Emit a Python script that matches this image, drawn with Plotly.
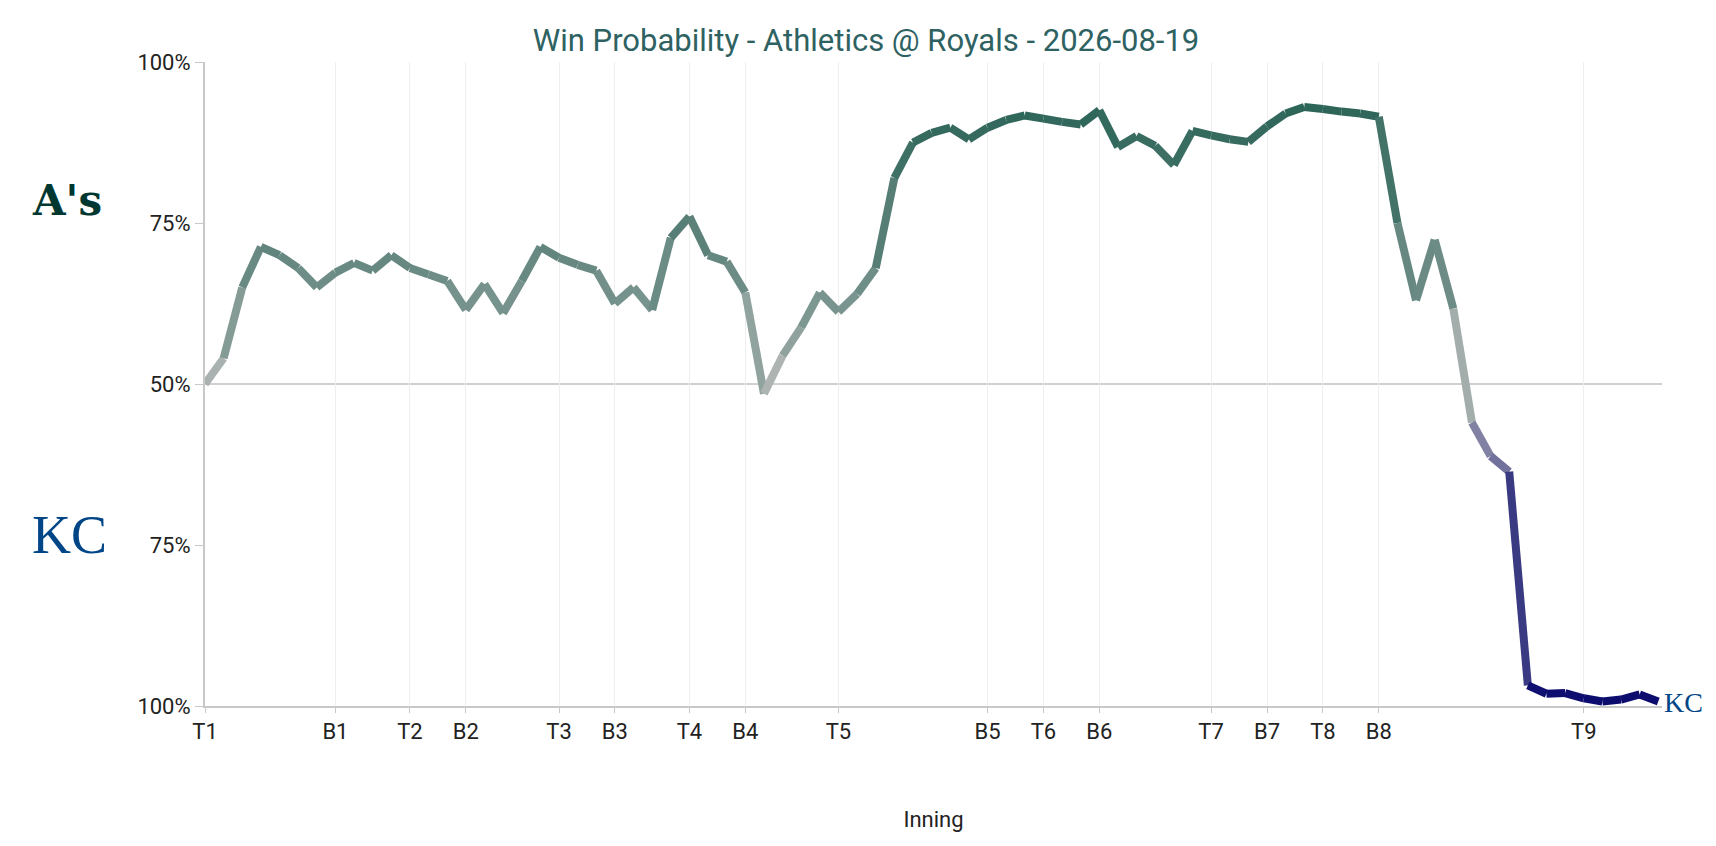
import plotly.graph_objects as go

wp = [50,54,65,71.3,70,68,65,67.3,68.8,67.6,70,68,67,66,61.5,65.5,61,66,71.3,69.6,
      68.5,67.6,62.5,65,61.5,72.7,76,70,69,64.2,48.5,54.4,58.8,64.2,61.2,64,68,82,87.5,89,
      89.8,88,89.8,91,91.7,91.2,90.7,90.3,92.5,86.8,88.5,87,84,89.3,88.6,88,87.6,90,92,93,
      92.7,92.3,92,91.5,75,63,72.4,61.7,44,38.8,36.4,3.2,1.9,2,1.2,0.7,1,1.8,0.7]
tick_pos = [0,7,11,14,19,22,26,29,34,42,45,48,54,57,60,63,74]
tick_lab = ["T1","B1","T2","B2","T3","B3","T4","B4","T5","B5","T6","B6","T7","B7","T8","B8","T9"]
ytick_pos = [0,25,50,75,100]
ytick_lab = ["100%","75%","50%","75%","100%"]

gray=(192,192,192); green=(31,92,79); navy=(10,10,110)
def col(p):
    t=min(1,abs(p-50)/50)**0.6
    c=green if p>=50 else navy
    return "rgb(%d,%d,%d)"%tuple(round(g+(cc-g)*t) for g,cc in zip(gray,c))

fig=go.Figure()
for i in range(len(wp)-1):
    fig.add_trace(go.Scatter(x=[i,i+1],y=[wp[i],wp[i+1]],mode="lines",
        line=dict(color=col((wp[i]+wp[i+1])/2),width=8),hoverinfo="skip",showlegend=False))

fig.update_layout(
    width=1716,height=846,paper_bgcolor="white",plot_bgcolor="white",
    margin=dict(l=197,r=62,t=54,b=148),
    font=dict(family="Roboto",color="#222",size=22),
    title=dict(text="Win Probability - Athletics @ Royals - 2026-08-19",x=0.5,xanchor="center",y=0.975,
               font=dict(size=31,color="#2e6262")),
    xaxis=dict(range=[0,78.2],tickvals=tick_pos,ticktext=tick_lab,showgrid=True,gridcolor="#eeeeee",
               zeroline=False,showline=True,linecolor="#c8c8c8",linewidth=2,ticks="outside",tickcolor="#c8c8c8",
               ticklen=5,title=dict(text="Inning",font=dict(size=22),standoff=68)),
    yaxis=dict(range=[0,100],tickvals=ytick_pos,ticktext=ytick_lab,showgrid=False,zeroline=False,
               showline=True,linecolor="#c8c8c8",linewidth=2,ticks="outside",tickcolor="#c8c8c8",ticklen=8),
    shapes=[dict(type="line",xref="paper",x0=0,x1=1,y0=50,y1=50,line=dict(color="#c0c0c0",width=1.5),layer="below")],
    annotations=[
        dict(text="<b>A's</b>",xref="paper",yref="paper",x=-0.12,y=0.785,yanchor="middle",showarrow=False,
             font=dict(family="DejaVu Serif",size=42,color="#003831")),
        dict(text="KC",xref="paper",yref="paper",x=-0.12,y=0.265,yanchor="middle",showarrow=False,
             font=dict(family="Liberation Serif",size=54,color="#004687")),
        dict(text="KC",xref="paper",yref="paper",x=1.0,y=0.005,xanchor="left",yanchor="middle",showarrow=False,
             font=dict(family="Liberation Serif",size=28,color="#004687")),
    ])
fig.write_html("out.html")
